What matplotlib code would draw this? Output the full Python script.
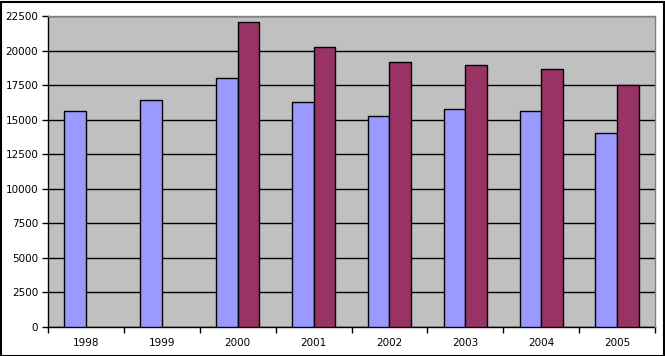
import numpy as np
import matplotlib
matplotlib.use("Agg")
import matplotlib.pyplot as plt
from matplotlib.patches import Rectangle

years = ["1998", "1999", "2000", "2001", "2002", "2003", "2004", "2005"]
series_a = [15600, 16450, 18050, 16250, 15250, 15800, 15600, 14000]
series_b = [np.nan, np.nan, 22050, 20250, 19200, 18950, 18650, 17500]
y_ticks = np.arange(0, 22501, 2500)

fig = plt.figure(figsize=(6.65, 3.56), dpi=100)
ax = fig.add_axes([48 / 665, 1 - 327 / 356, 607 / 665, 311 / 356])
ax.set_facecolor("#C0C0C0")

x = np.arange(len(years))
w = 1 / 3.5
ax.bar(x - w / 2, series_a, w, color="#9999FF", edgecolor="black",
       linewidth=1, zorder=3)
# second series has no values for the first years -> skip those bars
b = np.array(series_b, dtype=float)
has_b = ~np.isnan(b)
ax.bar(x[has_b] + w / 2, b[has_b], w, color="#993366",
       edgecolor="black", linewidth=1, zorder=3)

ax.set_xlim(-0.5, len(years) - 0.5)
ax.set_ylim(0, 22500)
ax.set_yticks(y_ticks)
ax.set_yticklabels([str(v) for v in y_ticks], fontsize=7.5)
ax.yaxis.grid(True, color="black", linewidth=1, zorder=1)
ax.set_axisbelow(True)

# category labels centered, tick marks on category boundaries
ax.set_xticks(x)
ax.set_xticklabels(years, fontsize=7.5)
ax.tick_params(axis="x", length=0, pad=8)
ax.set_xticks(np.arange(-0.5, len(years)), minor=True)
ax.tick_params(axis="x", which="minor", length=4, width=1, color="black")
ax.tick_params(axis="y", length=4, width=1, pad=3)

for side in ("left", "bottom"):
    ax.spines[side].set_color("black")
    ax.spines[side].set_linewidth(1)
for side in ("top", "right"):
    ax.spines[side].set_color("#808080")
    ax.spines[side].set_linewidth(1)
    ax.spines[side].set_zorder(4)

# outer chart border
fig.patches.append(Rectangle((0.5 / 665, 0.5 / 356), 663 / 665, 354 / 356,
                             transform=fig.transFigure, fill=False,
                             edgecolor="black", linewidth=1.5))

fig.savefig("out.png", dpi=100)
